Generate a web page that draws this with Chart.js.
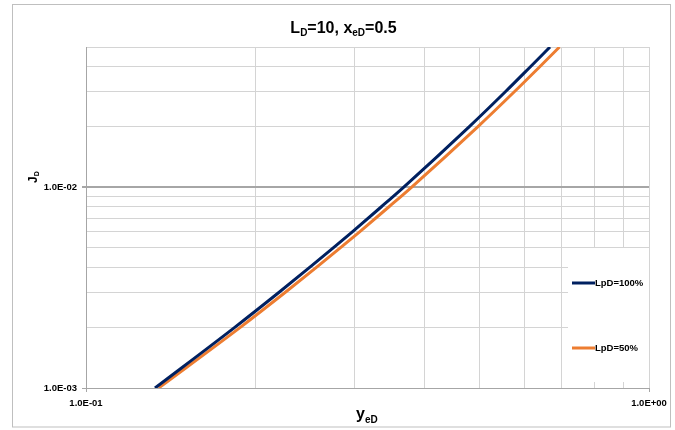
<!DOCTYPE html>
<html>
<head>
<meta charset="utf-8">
<script src="https://cdn.jsdelivr.net/npm/chart.js@4/dist/chart.umd.min.js"></script>
<style>
  html, body { margin: 0; padding: 0; background: #ffffff; }
  canvas { display: block; }
</style>
</head>
<body>
<canvas id="c" width="675" height="430"></canvas>
<script>
// ---- data ----
const seriesLabels = ['LpD=100%', 'LpD=50%'];
const jdLevels  = [0.001, 0.002, 0.003, 0.004, 0.005, 0.006, 0.008, 0.01, 0.02, 0.03, 0.04, 0.05];
const yedLpD100 = [0.1326, 0.1835, 0.2203, 0.2499, 0.2752, 0.2972, 0.3347, 0.3664, 0.4791, 0.5563, 0.6164, 0.6671];
const yedLpD50  = [0.1346, 0.1877, 0.2260, 0.2569, 0.2832, 0.3062, 0.3453, 0.3785, 0.4963, 0.5771, 0.6403, 0.6935];
// grid / tick positions on the log axes
const xGridValues = [0.1, 0.2, 0.3, 0.4, 0.5, 0.6, 0.7, 0.8, 0.9, 1];
const yGridValues = [0.001, 0.002, 0.003, 0.004, 0.005, 0.006, 0.007, 0.008, 0.009, 0.01, 0.02, 0.03, 0.04, 0.05];
const xTickValues = [0.1, 1];
const xTickLabels = ['1.0E-01', '1.0E+00'];
const yTickValues = [0.001, 0.01];
const yTickLabels = ['1.0E-03', '1.0E-02'];
const xMin = 0.1, xMax = 1, yMin = 0.001, yMax = 0.05;

const FONT = "'Liberation Sans', Arial, sans-serif";
const colors = ['#002060', '#ED7D31'];

function toPoints(xs, ys) { return xs.map((x, i) => ({ x: x, y: ys[i] })); }
function near(a, b) { return Math.abs(a - b) / b < 1e-6; }
function labelFor(v, vals, labs) {
  for (let i = 0; i < vals.length; i++) if (near(v, vals[i])) return labs[i];
  return '';
}

function drawRich(ctx, parts, x, y, align) {
  let total = 0;
  parts.forEach(p => { ctx.font = 'bold ' + p.size + 'px ' + FONT; p.w = ctx.measureText(p.t).width; total += p.w; });
  let cx = align === 'center' ? x - total / 2 : x;
  ctx.textBaseline = 'alphabetic';
  ctx.textAlign = 'left';
  parts.forEach(p => {
    ctx.font = 'bold ' + p.size + 'px ' + FONT;
    ctx.fillText(p.t, cx, y + (p.dy || 0));
    cx += p.w;
  });
}

const decor = {
  id: 'decor',
  afterDatasetsDraw(chart) {
    const ctx = chart.ctx;
    const area = chart.chartArea;
    ctx.save();
    // legend box inside plot area
    const lx = 568, ly = 248, lw = area.right - 568, lh = 134;
    ctx.fillStyle = '#ffffff';
    ctx.fillRect(lx, ly, lw, lh);
    const rows = [283, 348];
    chart.data.datasets.forEach((ds, i) => {
      ctx.strokeStyle = ds.borderColor;
      ctx.lineWidth = 3;
      ctx.beginPath();
      ctx.moveTo(572, rows[i]);
      ctx.lineTo(595, rows[i]);
      ctx.stroke();
      ctx.fillStyle = '#000000';
      ctx.font = 'bold 9.5px ' + FONT;
      ctx.textAlign = 'left';
      ctx.textBaseline = 'middle';
      ctx.fillText(ds.label, 595, rows[i] + 0.5);
    });
    ctx.restore();
  },
  afterDraw(chart) {
    const ctx = chart.ctx;
    ctx.save();
    ctx.fillStyle = '#000000';
    // title
    drawRich(ctx, [
      { t: 'L', size: 16 }, { t: 'D', size: 10, dy: 3 }, { t: '=10, x', size: 16 },
      { t: 'eD', size: 10, dy: 3 }, { t: '=0.5', size: 16 }
    ], 343.5, 33, 'center');
    // x axis title
    drawRich(ctx, [{ t: 'y', size: 16 }, { t: 'eD', size: 10, dy: 4 }], 356, 418.5, 'left');
    // y axis title (rotated)
    ctx.translate(37, 183);
    ctx.rotate(-Math.PI / 2);
    drawRich(ctx, [{ t: 'J', size: 12 }, { t: 'D', size: 7, dy: 2 }], 0, 0, 'left');
    ctx.restore();
    // outer border
    ctx.save();
    ctx.strokeStyle = '#bfbfbf';
    ctx.lineWidth = 1;
    ctx.strokeRect(12.5, 4.5, 658, 422.5);
    ctx.restore();
  }
};

new Chart(document.getElementById('c'), {
  type: 'line',
  data: {
    datasets: [
      { label: seriesLabels[0], data: toPoints(yedLpD100, jdLevels), borderColor: colors[0], backgroundColor: colors[0],
        borderWidth: 3, pointRadius: 0, cubicInterpolationMode: 'monotone', fill: false },
      { label: seriesLabels[1], data: toPoints(yedLpD50, jdLevels), borderColor: colors[1], backgroundColor: colors[1],
        borderWidth: 3, pointRadius: 0, cubicInterpolationMode: 'monotone', fill: false }
    ]
  },
  options: {
    responsive: false,
    animation: false,
    devicePixelRatio: 1,
    layout: { padding: { top: 47, right: 26, bottom: 0, left: 0 } },
    plugins: {
      legend: { display: false },
      title: { display: false },
      tooltip: { enabled: false }
    },
    scales: {
      x: {
        type: 'logarithmic',
        min: xMin, max: xMax,
        afterBuildTicks(s) { s.ticks = xGridValues.map(v => ({ value: v })); },
        afterFit(s) { s.height = 42; },
        border: { color: '#a6a6a6', width: 1 },
        grid: {
          color: '#d4d4d4', lineWidth: 1, tickLength: 4,
          tickColor: (c) => (c.tick && labelFor(c.tick.value, xTickValues, xTickLabels)) ? '#a6a6a6' : 'rgba(0,0,0,0)'
        },
        ticks: {
          autoSkip: false, maxRotation: 0, minRotation: 0, padding: 6,
          color: '#000000', font: { family: FONT, size: 9.5, weight: 'bold' },
          callback: (v) => labelFor(v, xTickValues, xTickLabels)
        }
      },
      y: {
        type: 'logarithmic',
        min: yMin, max: yMax,
        afterBuildTicks(s) { s.ticks = yGridValues.map(v => ({ value: v })); },
        afterFit(s) { s.width = 86; },
        border: { color: '#a6a6a6', width: 1 },
        grid: {
          color: (c) => (c.tick && near(c.tick.value, 0.01)) ? '#a6a6a6' : '#d4d4d4',
          lineWidth: (c) => (c.tick && near(c.tick.value, 0.01)) ? 2 : 1,
          tickLength: 4,
          tickColor: (c) => (c.tick && labelFor(c.tick.value, yTickValues, yTickLabels)) ? '#a6a6a6' : 'rgba(0,0,0,0)'
        },
        ticks: {
          autoSkip: false, padding: 5,
          color: '#000000', font: { family: FONT, size: 9.5, weight: 'bold' },
          callback: (v) => labelFor(v, yTickValues, yTickLabels)
        }
      }
    }
  },
  plugins: [decor]
});
</script>
</body>
</html>
